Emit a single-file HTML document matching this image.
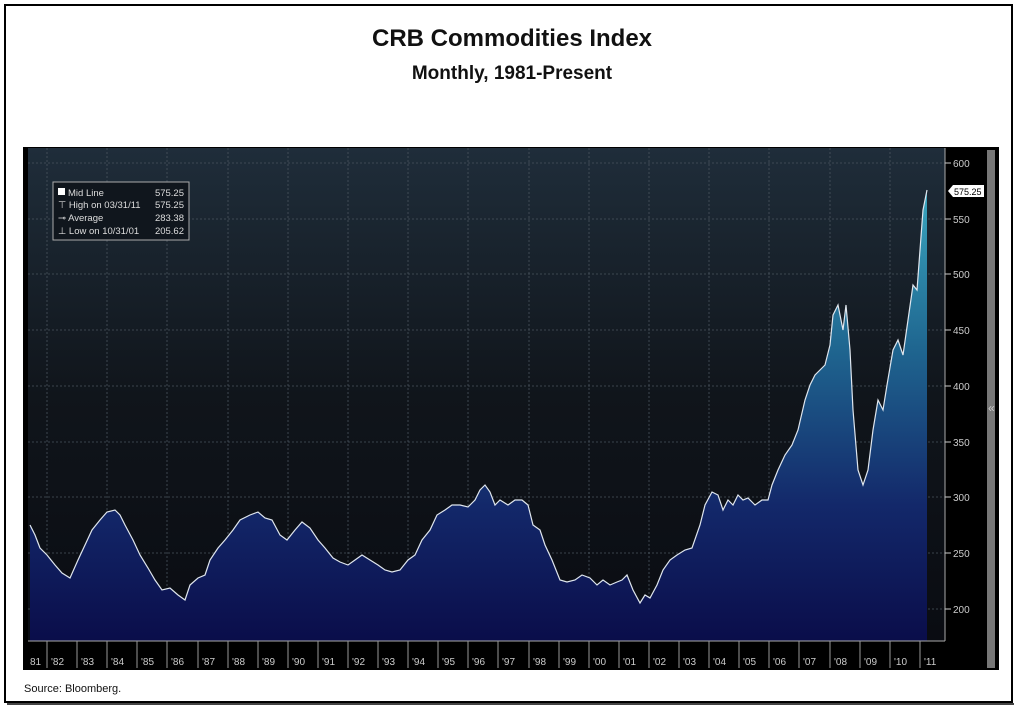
<!DOCTYPE html>
<html><head><meta charset="utf-8"><style>
body{margin:0;background:#fff;width:1024px;height:711px;overflow:hidden;font-family:"Liberation Sans",sans-serif}
</style></head><body>
<svg width="1024" height="711" xmlns="http://www.w3.org/2000/svg">
<defs>
<linearGradient id="bg" x1="0" y1="0" x2="0" y2="1">
<stop offset="0" stop-color="#1f2d3a"/><stop offset="0.5" stop-color="#10151b"/><stop offset="1" stop-color="#0a0c12"/>
</linearGradient>
<linearGradient id="fill" gradientUnits="userSpaceOnUse" x1="0" y1="190" x2="0" y2="641">
<stop offset="0" stop-color="#3aa6bf"/><stop offset="0.35" stop-color="#1f6690"/><stop offset="0.7" stop-color="#13286a"/><stop offset="1" stop-color="#0a0d4a"/>
</linearGradient>
</defs>
<rect x="5" y="5" width="1007" height="697" fill="#fff" stroke="#000" stroke-width="2"/>
<line x1="7" y1="704" x2="1014" y2="704" stroke="#444" stroke-width="2"/>
<text x="512" y="46" text-anchor="middle" font-size="24" font-weight="bold" fill="#111">CRB Commodities Index</text>
<text x="512" y="79" text-anchor="middle" font-size="19" font-weight="bold" fill="#111">Monthly, 1981-Present</text>
<rect x="23" y="147" width="976" height="523" fill="#000"/>
<rect x="28" y="148" width="917" height="493" fill="url(#bg)"/>
<rect x="987" y="150" width="8" height="518" fill="#777"/>
<text x="988" y="412" font-size="12" fill="#ccc">«</text>
<g stroke="#4a545e" stroke-width="0.8" stroke-dasharray="2,2">
<line x1="28" y1="163" x2="945" y2="163"/><line x1="28" y1="219" x2="945" y2="219"/><line x1="28" y1="274" x2="945" y2="274"/><line x1="28" y1="330" x2="945" y2="330"/><line x1="28" y1="386" x2="945" y2="386"/><line x1="28" y1="442" x2="945" y2="442"/><line x1="28" y1="497" x2="945" y2="497"/><line x1="28" y1="553" x2="945" y2="553"/><line x1="28" y1="609" x2="945" y2="609"/>
<line x1="47" y1="148" x2="47" y2="641"/><line x1="107" y1="148" x2="107" y2="641"/><line x1="167" y1="148" x2="167" y2="641"/><line x1="228" y1="148" x2="228" y2="641"/><line x1="288" y1="148" x2="288" y2="641"/><line x1="348" y1="148" x2="348" y2="641"/><line x1="408" y1="148" x2="408" y2="641"/><line x1="468" y1="148" x2="468" y2="641"/><line x1="529" y1="148" x2="529" y2="641"/><line x1="589" y1="148" x2="589" y2="641"/><line x1="649" y1="148" x2="649" y2="641"/><line x1="709" y1="148" x2="709" y2="641"/><line x1="769" y1="148" x2="769" y2="641"/><line x1="830" y1="148" x2="830" y2="641"/><line x1="890" y1="148" x2="890" y2="641"/>
</g>
<polygon fill="url(#fill)" points="30,641 30,525 35,535 40,548 47,555 55,565 62,573 70,578 78,560 85,545 92,530 100,520 107,512 115,510 120,515 125,525 133,540 140,555 148,568 155,580 162,590 170,588 178,595 185,600 190,585 198,578 205,575 210,560 218,548 225,540 233,530 240,520 250,515 258,512 265,518 272,520 280,535 287,540 295,530 302,522 310,528 318,540 325,548 333,558 340,562 348,565 355,560 362,555 370,560 378,565 385,570 392,572 400,570 408,560 415,555 422,540 430,530 437,515 445,510 452,505 460,505 468,507 475,500 480,490 485,485 490,492 495,505 500,500 508,505 515,500 522,500 528,505 533,525 540,530 545,545 552,560 560,580 567,582 575,580 582,575 590,578 597,585 603,580 610,585 617,582 622,580 627,575 633,590 640,603 645,595 650,598 657,585 663,570 670,560 677,555 685,550 692,548 700,525 705,505 712,492 718,495 723,510 728,500 733,505 738,495 743,500 748,498 755,505 762,500 768,500 772,485 778,470 785,455 792,445 798,430 805,400 810,385 815,375 820,370 825,365 830,345 833,315 838,305 843,330 846,305 850,350 853,410 858,470 863,485 868,470 873,430 878,400 883,410 887,385 893,350 898,340 903,355 908,320 913,285 917,290 920,250 923,210 927,190 927,641"/>
<polyline fill="none" stroke="#dfe6ee" stroke-width="1.2" points="30,525 35,535 40,548 47,555 55,565 62,573 70,578 78,560 85,545 92,530 100,520 107,512 115,510 120,515 125,525 133,540 140,555 148,568 155,580 162,590 170,588 178,595 185,600 190,585 198,578 205,575 210,560 218,548 225,540 233,530 240,520 250,515 258,512 265,518 272,520 280,535 287,540 295,530 302,522 310,528 318,540 325,548 333,558 340,562 348,565 355,560 362,555 370,560 378,565 385,570 392,572 400,570 408,560 415,555 422,540 430,530 437,515 445,510 452,505 460,505 468,507 475,500 480,490 485,485 490,492 495,505 500,500 508,505 515,500 522,500 528,505 533,525 540,530 545,545 552,560 560,580 567,582 575,580 582,575 590,578 597,585 603,580 610,585 617,582 622,580 627,575 633,590 640,603 645,595 650,598 657,585 663,570 670,560 677,555 685,550 692,548 700,525 705,505 712,492 718,495 723,510 728,500 733,505 738,495 743,500 748,498 755,505 762,500 768,500 772,485 778,470 785,455 792,445 798,430 805,400 810,385 815,375 820,370 825,365 830,345 833,315 838,305 843,330 846,305 850,350 853,410 858,470 863,485 868,470 873,430 878,400 883,410 887,385 893,350 898,340 903,355 908,320 913,285 917,290 920,250 923,210 927,190"/>
<line x1="945" y1="148" x2="945" y2="641" stroke="#aaa" stroke-width="1"/>
<line x1="28" y1="641" x2="945" y2="641" stroke="#aaa" stroke-width="1"/>
<g font-size="10" fill="#ccc">
<text x="953" y="167">600</text><text x="953" y="223">550</text><text x="953" y="278">500</text><text x="953" y="334">450</text><text x="953" y="390">400</text><text x="953" y="446">350</text><text x="953" y="501">300</text><text x="953" y="557">250</text><text x="953" y="613">200</text>
</g>
<g stroke="#ccc"><line x1="945" y1="163" x2="951" y2="163"/><line x1="945" y1="219" x2="951" y2="219"/><line x1="945" y1="274" x2="951" y2="274"/><line x1="945" y1="330" x2="951" y2="330"/><line x1="945" y1="386" x2="951" y2="386"/><line x1="945" y1="442" x2="951" y2="442"/><line x1="945" y1="497" x2="951" y2="497"/><line x1="945" y1="553" x2="951" y2="553"/><line x1="945" y1="609" x2="951" y2="609"/></g>
<polygon points="948,191 953,185 984,185 984,197 953,197" fill="#fff"/>
<text x="954" y="195" font-size="9" fill="#000">575.25</text>
<g stroke="#999" stroke-width="1">
<line x1="47" y1="641" x2="47" y2="668"/><line x1="77" y1="641" x2="77" y2="668"/><line x1="107" y1="641" x2="107" y2="668"/><line x1="137" y1="641" x2="137" y2="668"/><line x1="167" y1="641" x2="167" y2="668"/><line x1="198" y1="641" x2="198" y2="668"/><line x1="228" y1="641" x2="228" y2="668"/><line x1="258" y1="641" x2="258" y2="668"/><line x1="288" y1="641" x2="288" y2="668"/><line x1="318" y1="641" x2="318" y2="668"/><line x1="348" y1="641" x2="348" y2="668"/><line x1="378" y1="641" x2="378" y2="668"/><line x1="408" y1="641" x2="408" y2="668"/><line x1="438" y1="641" x2="438" y2="668"/><line x1="468" y1="641" x2="468" y2="668"/><line x1="498" y1="641" x2="498" y2="668"/><line x1="529" y1="641" x2="529" y2="668"/><line x1="559" y1="641" x2="559" y2="668"/><line x1="589" y1="641" x2="589" y2="668"/><line x1="619" y1="641" x2="619" y2="668"/><line x1="649" y1="641" x2="649" y2="668"/><line x1="679" y1="641" x2="679" y2="668"/><line x1="709" y1="641" x2="709" y2="668"/><line x1="739" y1="641" x2="739" y2="668"/><line x1="769" y1="641" x2="769" y2="668"/><line x1="799" y1="641" x2="799" y2="668"/><line x1="830" y1="641" x2="830" y2="668"/><line x1="860" y1="641" x2="860" y2="668"/><line x1="890" y1="641" x2="890" y2="668"/><line x1="920" y1="641" x2="920" y2="668"/>
</g>
<g font-size="10" fill="#ccc">
<text x="30" y="665">81</text><text x="51" y="665">'82</text><text x="81" y="665">'83</text><text x="111" y="665">'84</text><text x="141" y="665">'85</text><text x="171" y="665">'86</text><text x="202" y="665">'87</text><text x="232" y="665">'88</text><text x="262" y="665">'89</text><text x="292" y="665">'90</text><text x="322" y="665">'91</text><text x="352" y="665">'92</text><text x="382" y="665">'93</text><text x="412" y="665">'94</text><text x="442" y="665">'95</text><text x="472" y="665">'96</text><text x="502" y="665">'97</text><text x="533" y="665">'98</text><text x="563" y="665">'99</text><text x="593" y="665">'00</text><text x="623" y="665">'01</text><text x="653" y="665">'02</text><text x="683" y="665">'03</text><text x="713" y="665">'04</text><text x="743" y="665">'05</text><text x="773" y="665">'06</text><text x="803" y="665">'07</text><text x="834" y="665">'08</text><text x="864" y="665">'09</text><text x="894" y="665">'10</text><text x="924" y="665">'11</text>
</g>
<rect x="53" y="182" width="136" height="58" fill="#10161d" stroke="#aaa" stroke-width="1"/>
<g font-size="9.5" fill="#ddd">
<rect x="58" y="188" width="7" height="7" fill="#fff"/>
<text x="68" y="196">Mid Line</text><text x="184" y="196" text-anchor="end">575.25</text>
<text x="58" y="208">⊤ High on 03/31/11</text><text x="184" y="208" text-anchor="end">575.25</text>
<text x="58" y="221">⊸ Average</text><text x="184" y="221" text-anchor="end">283.38</text>
<text x="58" y="234">⊥ Low on 10/31/01</text><text x="184" y="234" text-anchor="end">205.62</text>
</g>
<text x="24" y="692" font-size="11" fill="#111">Source:  Bloomberg.</text>
</svg>
</body></html>
